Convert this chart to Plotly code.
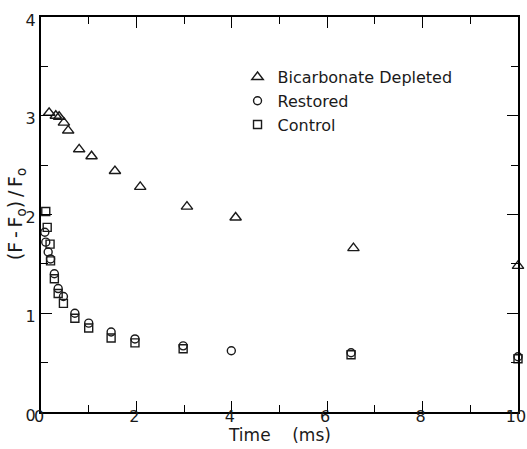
import plotly.graph_objects as go

# Data
depleted_t = [0.17, 0.31, 0.38, 0.48, 0.57, 0.80, 1.06, 1.55, 2.08, 3.06, 4.08, 6.55, 10.0]
depleted_y = [3.03, 3.00, 2.99, 2.93, 2.85, 2.66, 2.59, 2.44, 2.28, 2.08, 1.97, 1.66, 1.48]

restored_t = [0.08, 0.10, 0.15, 0.20, 0.28, 0.36, 0.47, 0.71, 1.00, 1.47, 1.97, 2.98, 3.99, 6.50, 10.0]
restored_y = [1.82, 1.72, 1.62, 1.55, 1.40, 1.25, 1.17, 1.00, 0.90, 0.81, 0.74, 0.67, 0.62, 0.60, 0.56]

control_t = [0.10, 0.13, 0.19, 0.20, 0.28, 0.36, 0.47, 0.71, 1.00, 1.47, 1.97, 2.98, 6.50, 10.0]
control_y = [2.03, 1.87, 1.70, 1.53, 1.35, 1.20, 1.10, 0.95, 0.85, 0.75, 0.70, 0.64, 0.58, 0.54]

x_ticks = [0, 2, 4, 6, 8, 10]
y_ticks = [0, 1, 2, 3, 4]
x_title = "Time&nbsp;&nbsp;&nbsp;&nbsp;(ms)"
y_title = "(F&#8201;-&#8201;F<sub>o</sub>)&#8201;/&#8201;F<sub>o</sub>"

FONT = "DejaVu Sans"
INK = "#1a1a1a"

fig = go.Figure()
fig.add_trace(go.Scatter(
    x=depleted_t, y=depleted_y, mode="markers", name="Bicarbonate Depleted",
    marker=dict(symbol="triangle-up-open", size=10, color=INK, line=dict(width=1.4, color=INK)),
    cliponaxis=False))
fig.add_trace(go.Scatter(
    x=restored_t, y=restored_y, mode="markers", name="Restored",
    marker=dict(symbol="circle-open", size=8, color=INK, line=dict(width=1.4, color=INK)),
    cliponaxis=False))
fig.add_trace(go.Scatter(
    x=control_t, y=control_y, mode="markers", name="Control",
    marker=dict(symbol="square-open", size=8, color=INK, line=dict(width=1.4, color=INK)),
    cliponaxis=False))

fig.update_xaxes(
    range=[0, 10], tickmode="array", tickvals=x_ticks, ticktext=[str(v) for v in x_ticks],
    showline=True, linewidth=2, linecolor="black", mirror="ticks",
    ticks="inside", tickwidth=1.3, tickcolor="black", ticklen=11,
    minor=dict(dtick=1, ticks="inside", ticklen=7, tickwidth=1.3, tickcolor="black"),
    showgrid=False, zeroline=False, automargin=False,
    ticklabelstandoff=-11, ticklabelshift=-2, ticklabeloverflow="allow",
    tickfont=dict(family=FONT, size=16, color=INK),
)
fig.update_yaxes(
    range=[0, 4], tickmode="array", tickvals=y_ticks, ticktext=[str(v) for v in y_ticks],
    showline=True, linewidth=2, linecolor="black", mirror="ticks",
    ticks="inside", tickwidth=1.3, tickcolor="black", ticklen=11,
    minor=dict(dtick=0.5, ticks="inside", ticklen=7, tickwidth=1.3, tickcolor="black"),
    showgrid=False, zeroline=False, automargin=False,
    ticklabelshift=3, ticklabeloverflow="allow",
    tickfont=dict(family=FONT, size=16, color=INK),
)

fig.add_annotation(text=x_title, xref="paper", yref="paper", x=0.5, y=-0.058,
                   xanchor="center", yanchor="middle", showarrow=False,
                   font=dict(family=FONT, size=17, color=INK))
fig.add_annotation(text=y_title, xref="paper", yref="paper", x=-0.051, y=0.5,
                   xanchor="center", yanchor="middle", showarrow=False, textangle=-90,
                   font=dict(family=FONT, size=19, color=INK))

fig.update_layout(
    template="simple_white",
    width=527, height=449,
    margin=dict(l=41, r=9, t=17, b=37, autoexpand=False),
    paper_bgcolor="white", plot_bgcolor="white",
    font=dict(family=FONT, size=16, color=INK),
    legend=dict(
        x=0.412, y=0.891, xanchor="left", yanchor="top",
        bgcolor="rgba(0,0,0,0)", font=dict(family=FONT, size=16, color=INK),
        tracegroupgap=0, itemsizing="trace",
    ),
    showlegend=True,
)

fig.write_html("out.html", config={"displayModeBar": False},
               post_script="document.body.style.margin='0';")
